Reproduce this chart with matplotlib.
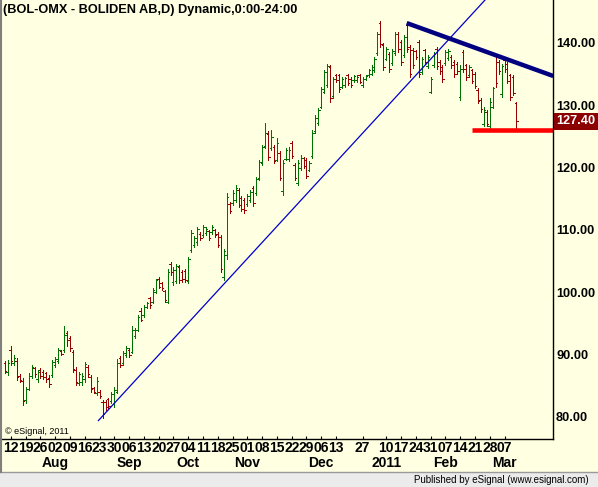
import matplotlib
matplotlib.use('Agg')
import matplotlib.pyplot as plt
import matplotlib.transforms as mtransforms
from matplotlib import font_manager
from matplotlib.lines import Line2D
from matplotlib.patches import Rectangle
import pandas as pd

# ---------------- data ----------------
title = "(BOL-OMX - BOLIDEN AB,D) Dynamic,0:00-24:00"
start_date = '2010-07-08'
end_date = '2011-03-11'
holidays = ['2010-12-24', '2010-12-31', '2011-01-06']

opens = [88.6, 87.2, 90.8, 88.6, 89.0, 86.6, 85.8, 82.7, 84.5, 86.5, 87.8, 86.0, 87.5, 87.2, 87.0, 86.3,
         86.7, 88.3, 88.9, 90.5, 90.7, 93.4, 92.6, 90.4, 87.5, 85.5, 85.6, 86.0, 88.0, 86.4, 84.6, 83.8,
         84.0, 82.4, 82.4, 82.8, 82.5, 82.0, 84.0, 89.4, 88.6, 89.9, 90.8, 90.4, 92.9, 94.0, 97.0,
         96.3, 97.7, 99.0, 98.5, 100.0, 102.2, 101.5, 100.2, 98.5, 104.6, 101.6, 101.8, 104.0, 103.3,
         103.4, 101.8, 106.8, 107.6, 108.0, 109.4, 109.2, 109.5, 109.8, 109.6, 110.0, 109.4, 108.8,
         102.4, 106.0, 114.2, 114.3, 114.8, 116.4, 115.2, 114.8, 114.2, 114.8, 116.7, 115.9, 118.3,
         120.7, 123.4, 125.4, 123.1, 123.3, 121.3, 122.3, 116.2, 121.4, 121.4, 123.9, 120.4, 117.6,
         119.9, 121.5, 121.2, 119.6, 121.8, 125.8, 127.1, 129.8, 132.2, 133.3, 136.2, 131.5, 134.9,
         134.8, 133.0, 133.3, 134.8, 134.3, 134.0, 134.0, 134.9, 133.2, 134.2, 134.8, 135.1, 135.7,
         138.4, 143.2, 139.7, 137.5, 138.3, 136.8, 138.4, 141.5, 140.2, 138.1, 142.9, 139.4, 138.9,
         138.7, 140.2, 135.4, 138.8, 136.3, 132.2, 136.5, 139.1, 137.0, 136.2, 136.8, 137.6, 137.8,
         137.0, 136.6, 131.3, 138.6, 136.4, 134.9, 135.6, 135.1, 132.4, 130.8, 127.0, 128.9, 126.7,
         129.8, 137.9, 137.0, 131.8, 137.2, 136.6, 134.8, 134.6, 130.3]
highs = [88.9, 89.1, 91.4, 89.9, 89.4, 86.9, 86.2, 84.8, 87.0, 88.3, 88.0, 87.5, 87.8, 87.5, 87.2, 86.7,
         89.1, 89.6, 91.0, 90.7, 94.5, 93.7, 92.9, 90.7, 88.0, 87.2, 87.0, 88.8, 88.3, 86.7, 84.8, 86.4,
         84.3, 82.7, 82.7, 83.0, 84.0, 84.8, 89.2, 89.7, 90.5, 91.3, 91.0, 94.5, 94.2, 96.3, 97.4,
         98.0, 98.5, 99.3, 100.6, 102.2, 102.5, 101.7, 100.4, 103.8, 104.9, 104.0, 104.6, 104.3, 103.6,
         103.8, 105.7, 110.0, 109.0, 110.5, 109.7, 110.8, 110.5, 110.0, 110.8, 110.2, 109.7, 109.2,
         107.0, 115.9, 114.5, 116.4, 117.2, 116.7, 115.5, 115.1, 115.8, 116.4, 117.0, 118.5, 121.2,
         123.6, 127.1, 125.8, 126.0, 123.6, 124.7, 122.6, 121.2, 123.1, 123.3, 124.2, 120.7, 121.2,
         122.0, 121.7, 121.5, 121.0, 126.0, 128.4, 129.5, 133.0, 135.7, 136.7, 136.5, 134.6, 135.1,
         135.1, 134.6, 134.6, 135.1, 134.6, 134.9, 134.9, 135.1, 134.6, 134.9, 135.9, 136.5, 137.8,
         141.8, 143.5, 140.0, 139.4, 138.6, 139.0, 141.8, 141.8, 140.5, 141.3, 143.2, 139.7, 139.2,
         138.9, 140.5, 137.8, 139.1, 138.0, 134.6, 138.6, 139.4, 137.3, 136.5, 138.9, 139.0, 138.1,
         137.3, 136.9, 136.5, 138.9, 136.7, 136.5, 135.9, 135.4, 132.7, 131.1, 129.8, 129.2, 131.1,
         133.0, 138.3, 137.3, 136.7, 137.5, 136.9, 135.1, 134.9, 130.6]
lows = [87.0, 86.7, 88.3, 88.3, 85.9, 85.6, 81.9, 82.2, 84.3, 86.2, 86.4, 85.6, 86.2, 86.0, 85.6, 84.8,
        86.4, 88.0, 88.6, 89.9, 90.4, 91.3, 90.5, 87.2, 85.1, 85.1, 85.1, 85.6, 86.4, 84.0, 83.8, 83.5,
        83.0, 79.8, 81.1, 81.4, 82.2, 81.6, 83.8, 88.0, 88.3, 89.6, 89.6, 90.2, 92.6, 93.7, 95.3,
        96.1, 97.5, 97.5, 98.2, 99.8, 100.6, 100.3, 98.5, 98.2, 102.8, 101.2, 101.4, 101.5, 101.7,
        101.6, 101.4, 106.5, 107.3, 107.6, 108.4, 108.9, 109.2, 108.4, 109.4, 108.9, 107.3, 103.3,
        102.0, 105.4, 112.7, 114.0, 114.5, 113.7, 113.0, 112.7, 113.9, 114.5, 113.9, 115.6, 118.0,
        120.4, 123.1, 121.2, 122.8, 120.7, 121.0, 118.0, 115.6, 121.2, 121.0, 121.5, 118.0, 117.2,
        119.6, 120.0, 118.3, 119.4, 121.5, 125.5, 126.8, 129.5, 131.9, 133.0, 130.6, 131.1, 133.8,
        132.2, 132.7, 133.0, 133.3, 133.0, 133.8, 133.8, 133.5, 133.0, 134.1, 134.6, 134.9, 135.4,
        138.1, 139.4, 135.7, 137.3, 135.4, 136.5, 138.1, 138.6, 136.5, 137.8, 138.6, 134.6, 136.0,
        137.5, 134.6, 135.1, 136.7, 136.0, 131.9, 136.2, 135.9, 135.1, 133.8, 136.5, 137.3, 136.0,
        134.6, 135.1, 130.9, 135.4, 134.1, 134.6, 133.5, 132.7, 130.3, 129.0, 126.6, 126.6, 126.3,
        129.5, 133.0, 135.1, 131.4, 135.4, 133.5, 130.9, 131.7, 126.0]
closes = [87.3, 88.7, 88.9, 89.5, 86.4, 85.9, 82.6, 84.4, 86.6, 88.0, 86.8, 87.2, 86.5, 86.4, 86.0, 85.3,
          88.8, 89.3, 90.7, 90.1, 93.2, 92.3, 91.0, 87.6, 85.6, 86.8, 86.5, 88.4, 86.8, 84.5, 84.0, 85.8,
          83.3, 80.5, 81.6, 81.8, 83.7, 84.3, 88.6, 88.3, 90.2, 91.0, 90.0, 93.9, 93.9, 96.0, 95.6,
          97.7, 98.3, 97.9, 100.3, 101.9, 100.9, 100.6, 98.8, 103.3, 103.2, 103.6, 104.2, 102.0, 102.1,
          102.0, 105.3, 109.5, 108.7, 110.1, 108.7, 110.5, 110.2, 108.7, 110.5, 109.2, 107.6, 103.8,
          106.6, 115.3, 113.0, 116.0, 116.8, 114.0, 113.3, 113.2, 115.5, 116.1, 114.3, 118.2, 120.9,
          123.3, 125.5, 121.7, 124.9, 121.1, 124.0, 118.4, 120.8, 122.8, 122.9, 121.8, 118.4, 120.8,
          121.6, 120.3, 118.7, 120.7, 125.6, 128.0, 129.2, 132.6, 135.3, 136.3, 131.2, 134.2, 134.0,
          132.6, 134.3, 134.4, 133.6, 133.3, 134.7, 134.6, 133.8, 134.3, 134.7, 135.7, 136.2, 137.5,
          141.4, 139.8, 136.1, 139.1, 135.8, 138.7, 141.4, 139.0, 136.9, 141.0, 139.0, 135.0, 136.4,
          137.8, 135.0, 137.5, 137.0, 137.7, 134.3, 138.3, 136.3, 135.5, 134.2, 138.6, 138.7, 136.4,
          135.0, 135.5, 135.8, 135.8, 134.5, 136.2, 133.9, 133.1, 130.7, 129.4, 129.3, 127.0, 130.6,
          132.7, 133.5, 135.5, 136.3, 135.8, 133.9, 131.3, 132.0, 127.4]

day_label_dates = ['2010-07-12', '2010-07-19', '2010-07-26', '2010-08-02', '2010-08-09', '2010-08-16',
                   '2010-08-23', '2010-08-30', '2010-09-06', '2010-09-13', '2010-09-20', '2010-09-27',
                   '2010-10-04', '2010-10-11', '2010-10-18', '2010-10-25', '2010-11-01', '2010-11-08',
                   '2010-11-15', '2010-11-22', '2010-11-29', '2010-12-06', '2010-12-13', '2010-12-27',
                   '2011-01-10', '2011-01-17', '2011-01-24', '2011-01-31', '2011-02-07', '2011-02-14',
                   '2011-02-21', '2011-02-28', '2011-03-07']
month_labels = ['Aug', 'Sep', 'Oct', 'Nov', 'Dec', '2011', 'Feb', 'Mar']
month_label_dates = ['2010-08-02', '2010-09-06', '2010-10-04', '2010-11-01', '2010-12-06',
                     '2011-01-10', '2011-02-07', '2011-03-07']
y_ticks = [80, 90, 100, 110, 120, 130, 140]

# drawn studies (bar position, price)
uptrend_x = [31.6, 162.4]
uptrend_y = [79.4, 146.9]
downtrend_x = [135.9, 185.5]
downtrend_y = [143.2, 134.7]
support_x = [158.0, 185.5]
support_level = 126.0
last_price = 127.40

# ---------------- drawing ----------------
names = {f.name for f in font_manager.fontManager.ttflist}
narrow = 'Liberation Sans Narrow' if 'Liberation Sans Narrow' in names else 'Liberation Sans'
reg = 'Liberation Sans'

BG = '#FFFFE1'
GREEN = '#007000'
RED = '#990000'

dates = pd.bdate_range(start_date, end_date)
dates = dates[~dates.isin(pd.to_datetime(holidays))]
pos = {d.strftime('%Y-%m-%d'): i for i, d in enumerate(dates)}
xs = list(range(len(dates)))

W, H = 598, 487
fig = plt.figure(figsize=(W / 100, H / 100), dpi=100, facecolor=BG)
ax = fig.add_axes([2 / W, 48 / H, 551.3 / W, 439 / H])
ax.set_facecolor(BG)
ax.set_xlim(-1.02, 185.5)
ax.set_ylim(76.44, 146.9)

cols = [GREEN if c >= o else RED for o, c in zip(opens, closes)]
BLW = 0.68
ax.vlines(xs, lows, highs, colors=cols, lw=BLW, antialiased=False)
ax.hlines(opens, [x - 0.5 for x in xs], xs, colors=cols, lw=BLW, antialiased=False)
ax.hlines(closes, xs, [x + 0.5 for x in xs], colors=cols, lw=BLW, antialiased=False)

ax.plot(uptrend_x, uptrend_y, color='#0000CC', lw=0.9, clip_on=True)
ax.plot(downtrend_x, downtrend_y, color='#000080', lw=3.2, solid_capstyle='butt')
ax.plot(support_x, [support_level, support_level], color='#FF0000', lw=3.3, solid_capstyle='butt')

# spines
for s in ['top', 'left']:
    ax.spines[s].set_visible(False)
ax.spines['right'].set_color('black')
ax.spines['bottom'].set_color('black')
ax.spines['right'].set_linewidth(1.0)
ax.spines['bottom'].set_linewidth(1.0)

# y axis on right
ax.yaxis.tick_right()
ax.set_yticks(y_ticks)
ax.set_yticklabels(['%.2f' % v for v in y_ticks], fontfamily=reg, fontweight='bold', fontsize=9.2)
ax.tick_params(axis='y', length=0, pad=2)

# x axis ticks
tick_pos = [pos[d] for d in day_label_dates]
ax.set_xticks(tick_pos)
ax.set_xticklabels([])
ax.tick_params(axis='x', direction='in', length=2.5, width=0.8, color='black')

tr = mtransforms.blended_transform_factory(ax.transData, ax.transAxes)
for d in day_label_dates:
    ax.text(pos[d], -9 / 439, d[-2:], transform=tr, ha='center', va='center',
            fontfamily=narrow, fontweight='bold', fontsize=10, clip_on=False)
for lab, d in zip(month_labels, month_label_dates):
    ax.text(pos[d], -24 / 439, lab, transform=tr, ha='center', va='center',
            fontfamily=narrow, fontweight='bold', fontsize=10, clip_on=False)

# last price marker
tr2 = mtransforms.blended_transform_factory(ax.transAxes, ax.transData)
off = mtransforms.offset_copy(tr2, fig=fig, x=3, y=0, units='dots')
ax.text(1.0, last_price, '%.2f' % last_price, transform=off, ha='left', va='center',
        color='white', fontfamily=reg, fontweight='bold', fontsize=9.2, clip_on=False,
        bbox=dict(boxstyle='square,pad=0.2', fc='#8B0000', ec='none'))

# texts
ax.text(1 / 551, (439 - 10) / 439, title, transform=ax.transAxes, ha='left', va='center',
        fontfamily=reg, fontweight='bold', fontsize=9.2)
ax.text(3 / 551, (439 - 432) / 439, '\u00a9 eSignal, 2011', transform=ax.transAxes,
        ha='left', va='center', fontfamily=reg, fontsize=6.5)

# status bar
fig.add_artist(Rectangle((0, 0), 1, 15 / H, transform=fig.transFigure, fc='#EBEBEB', ec='none'))
fig.add_artist(Line2D([0, 1], [15 / H, 15 / H], transform=fig.transFigure, color='#9A9A9A', lw=1.0))
fig.add_artist(Line2D([1 / W, 1 / W], [15 / H, 1], transform=fig.transFigure, color='#7F7F7F', lw=1.5))
fig.text(589 / W, 7 / H, 'Published by eSignal (www.esignal.com)', ha='right', va='center',
         fontfamily=reg, fontsize=7)

fig.savefig('out.png', dpi=100, facecolor=BG)
